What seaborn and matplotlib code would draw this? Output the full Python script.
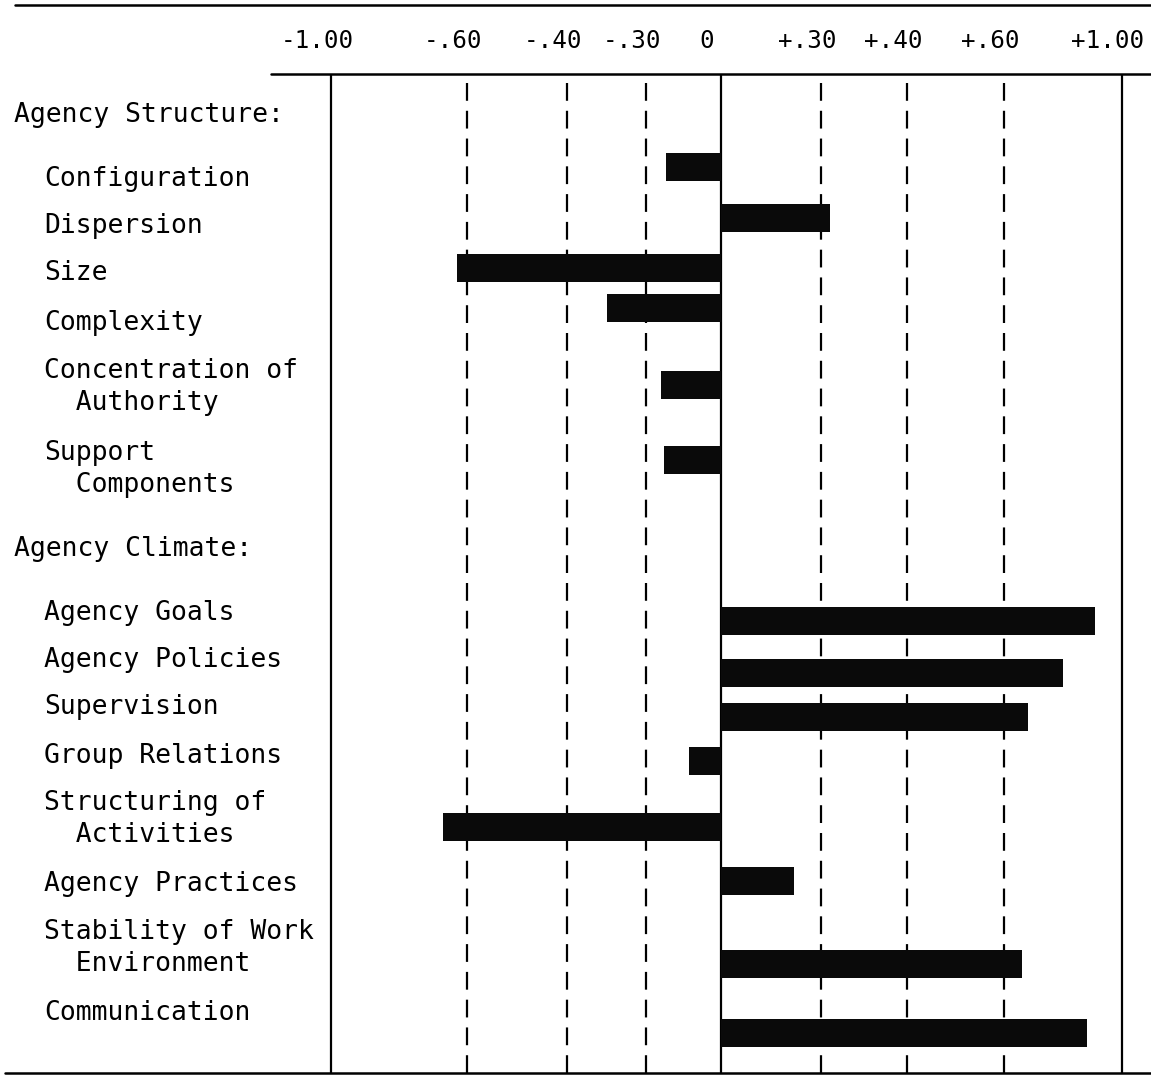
import numpy as np
import pandas as pd
import matplotlib
matplotlib.use("Agg")
import matplotlib.pyplot as plt
import matplotlib.transforms as mtransforms
import seaborn as sns

# correlations
headers = ["Agency Structure:", "Agency Climate:"]
structure_items = ["Configuration", "Dispersion", "Size", "Complexity",
                   "Concentration of\n  Authority", "Support\n  Components"]
structure_r = [-0.22, 0.31, -0.63, -0.35, -0.24, -0.23]
climate_items = ["Agency Goals", "Agency Policies", "Supervision", "Group Relations",
                 "Structuring of\n  Activities", "Agency Practices",
                 "Stability of Work\n  Environment", "Communication"]
climate_r = [0.91, 0.80, 0.68, -0.13, -0.67, 0.22, 0.66, 0.88]
tick_vals = [-1.00, -0.60, -0.40, -0.30, 0, 0.30, 0.40, 0.60, 1.00]
tick_labels = ["-1.00", "-.60", "-.40", "-.30", "0", "+.30", "+.40", "+.60", "+1.00"]

# layout, in pixels of the 1151x1078 page
W, H = 1151, 1078
tick_px = [331, 467, 567, 646, 721, 821, 907, 1004, 1122]  # hand-ruled, uneven
header_y = [122, 556]
label_y = [186, 233, 280, 330, 378, 460, 620, 667, 714, 763, 810, 891, 939, 1020]
bar_y = [167, 218, 268, 308, 385, 460, 621, 673, 717, 761, 827, 881, 964, 1033]
bar_h = 28
line_h = 32
top_rule, bottom_rule = 74, 1073

items = structure_items + climate_items
r = structure_r + climate_r

# the uneven hand scale as a piecewise-linear axis scale, extended past +-1
tv = np.array(tick_vals)
tp = np.array(tick_px, float)
lo = (tp[1] - tp[0]) / (tv[1] - tv[0])
hi = (tp[-1] - tp[-2]) / (tv[-1] - tv[-2])
sv = np.r_[-5, tv, 5]
sp = np.r_[tp[0] - (tv[0] + 5) * lo, tp, tp[-1] + (5 - tv[-1]) * hi]


def fwd(v):
    return np.interp(v, sv, sp)


def inv(p):
    return np.interp(p, sp, sv)


sns.set_style("white")
plt.rcParams["font.family"] = ["DejaVu Sans Mono"]
plt.rcParams["text.color"] = "black"

fig = plt.figure(figsize=(W / 100, H / 100), dpi=100)
ax = fig.add_axes([271 / W, 1 - bottom_rule / H, (W - 271) / W, (bottom_rule - top_rule) / H])
ax.set_xscale("function", functions=(fwd, inv))

df = pd.DataFrame({"item": items, "r": r, "row": bar_y})
gap = np.diff(sorted(bar_y)).min()
sns.barplot(data=df, x="r", y="row", orient="h", native_scale=True,
            width=bar_h / gap, color="#0a0a0a", saturation=1, errorbar=None,
            linewidth=0, ax=ax, zorder=3)
ax.set_xlim(inv(271), inv(W))
ax.set_ylim(bottom_rule, top_rule)
ax.set_axis_off()

for v in tick_vals:
    ls = "-" if v in (-1, 0, 1) else (0, (8, 4.5))
    ax.axvline(v, color="black", lw=1.6, ls=ls, zorder=2)

off = mtransforms.offset_copy(ax.transData, fig=fig, x=-14, y=0, units="dots")
for v, t in zip(tick_vals, tick_labels):
    ax.text(v, 48, t, transform=off, ha="center", va="baseline",
            fontsize=17.5, clip_on=False)


def put(x, y, s):
    fig.text(x / W, 1 - y / H, s, ha="left", va="baseline", fontsize=19)


for hy, h in zip(header_y, headers):
    put(14, hy, h)
for y, s in zip(label_y, items):
    for i, line in enumerate(s.split("\n")):
        put(44, y + i * line_h, line)

# ruled lines of the typed page
for x0, x1, y in [(15, W, 5), (271, W, top_rule), (5, W, bottom_rule)]:
    fig.add_artist(plt.Line2D([x0 / W, x1 / W], [1 - y / H] * 2,
                              color="black", lw=1.8))

fig.savefig("out.png", dpi=100)
